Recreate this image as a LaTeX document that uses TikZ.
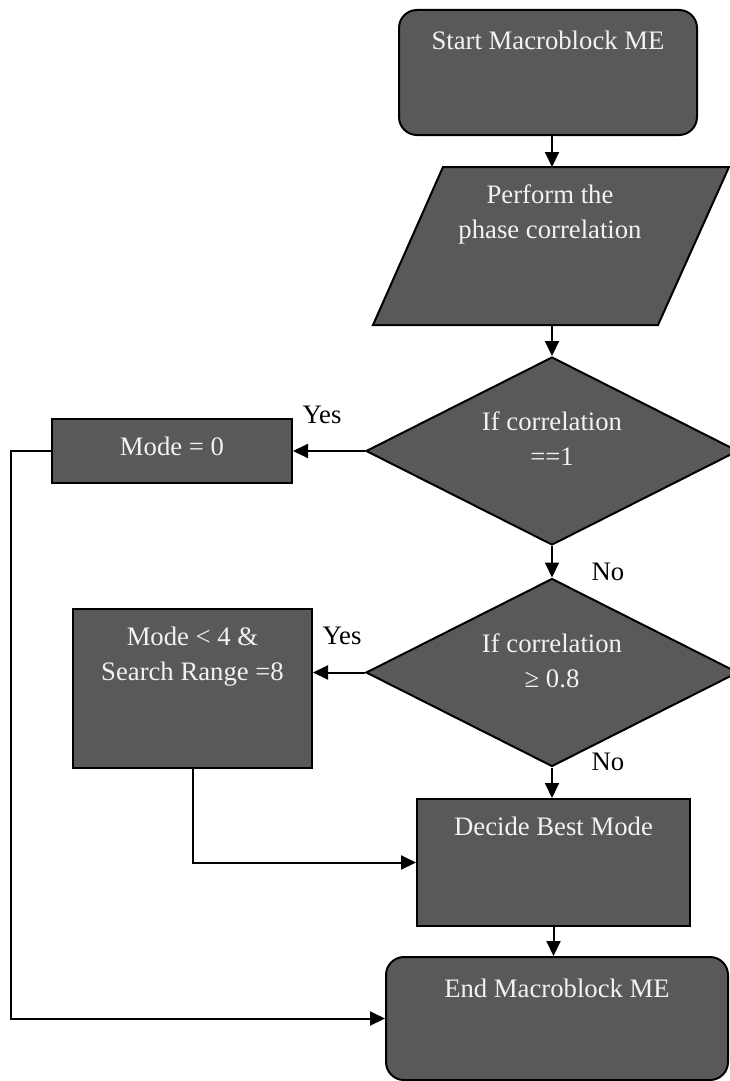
\documentclass[tikz,border=0pt]{standalone}
\usepackage{fontspec}
\setmainfont{Liberation Serif}
\usetikzlibrary{shapes.geometric,arrows.meta}
\definecolor{boxfill}{HTML}{595959}
\definecolor{boxtext}{HTML}{F2F2F2}
\newcommand\stacked[1]{\begin{tabular}[t]{@{}c@{}}#1\end{tabular}}
\begin{document}
\begin{tikzpicture}[x=1pt,y=-1pt,
  every node/.style={font=\fontsize{26.7}{35}\selectfont},
  block/.style={draw=black, line width=2pt, fill=boxfill, inner sep=0pt},
  rblock/.style={block, rectangle, rounded corners=18pt},
  sblock/.style={block, rectangle},
  decision/.style={block, diamond, minimum width=372pt, minimum height=188pt},
  intext/.style={text=boxtext, inner sep=0pt, anchor=base},
  tag/.style={text=black, inner sep=0pt, anchor=base},
  conn/.style={line width=2pt, -{Triangle[length=15pt,width=14pt]}}]
\useasboundingbox (0,0) rectangle (730,1081);

% shapes
\node[rblock, minimum width=298pt, minimum height=125pt] (start) at (548,72.5) {};
\fill[boxfill, draw=black, line width=2pt, line join=miter]
  (443,167) -- (729,167) -- (658,325) -- (373,325) -- cycle;
\coordinate (paraN) at (552,167);
\coordinate (paraS) at (552,325);
\node[decision] (d1) at (552,451) {};
\node[sblock, minimum width=240pt, minimum height=64pt] (m0) at (172,451) {};
\node[decision] (d2) at (552,672.5) {};
\node[sblock, minimum width=239pt, minimum height=159pt] (m4) at (192.5,688.5) {};
\node[sblock, minimum width=273pt, minimum height=127pt] (decide) at (553.5,862.5) {};
\node[rblock, minimum width=342pt, minimum height=123pt] (end) at (557,1018.5) {};

% texts inside the shapes
\node[intext] (startT) at (548,50) {Start Macroblock ME};
\node[intext] (paraT) at (550,203) {\stacked{Perform the\\phase correlation}};
\node[intext] (d1T) at (552,430) {\stacked{If correlation\\==1}};
\node[intext] (m0T) at (172,455) {Mode = 0};
\node[intext] (d2T) at (552,652) {\stacked{If correlation\\≥ 0.8}};
\node[intext] (m4T) at (192.5,645) {\stacked{Mode < 4 \&\\Search Range =8}};
\node[intext] (decideT) at (553.5,835) {Decide Best Mode};
\node[intext] (endT) at (557,997) {End Macroblock ME};

% branch labels
\node[tag] (yes1) at (322,423) {Yes};
\node[tag] (yes2) at (342,644) {Yes};
\node[tag] (no1) at (608,580) {No};
\node[tag] (no2) at (608,770) {No};

% connectors
\draw[conn] (start.south -| paraN) -- (paraN);
\draw[conn] (paraS) -- (d1.north);
\draw[conn] (d1.west) -- (d1.west -| m0.east);
\draw[conn] (d1.south) -- (d2.north);
\draw[conn] (d2.west) -- (d2.west -| m4.east);
\draw[conn] (d2.south) -- (d2.south |- decide.north);
\draw[conn] (decide.south) -- (decide.south |- end.north);
\draw[conn] (m4.south) |- (decide.west);
\draw[conn] (m0.west) -- ++(-40,0) |- (end.west);
\end{tikzpicture}
\end{document}
